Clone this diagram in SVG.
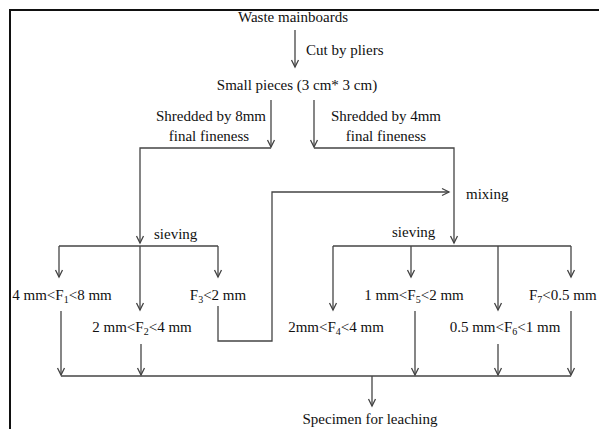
<svg xmlns="http://www.w3.org/2000/svg" width="599" height="429" viewBox="0 0 599 429">
<style>
text{font-family:"Liberation Serif","Times New Roman",serif;font-size:15px;fill:#111}
.sub{font-size:10px}
.c{fill:none;stroke:#444;stroke-width:1.3}
.a{marker-end:url(#arr)}
</style>
<defs>
<marker id="arr" markerUnits="userSpaceOnUse" viewBox="-10 -6 12 12" markerWidth="12" markerHeight="12" refX="0" refY="0" orient="auto">
<path d="M-7,-3.5 L0,0 L-7,3.5" fill="none" stroke="#444" stroke-width="1.3"/>
</marker>
</defs>
<rect width="599" height="429" fill="#fff"/>
<path d="M10,429 V10 H599" fill="none" stroke="#111" stroke-width="2"/>
<g id="connectors">
<path class="c a" d="M295,30 V67"/>
<path class="c a" d="M271,100 V147"/>
<path class="c a" d="M271,148 H140 V243"/>
<path class="c a" d="M314,100 V147"/>
<path class="c a" d="M314,148 H454 V243"/>
<path class="c" d="M59,246 H218"/>
<path class="c a" d="M59,246 V277"/>
<path class="c a" d="M218,246 V277"/>
<path class="c a" d="M140,246 V310"/>
<path class="c" d="M333,246 H571"/>
<path class="c a" d="M333,246 V310"/>
<path class="c a" d="M411,246 V277"/>
<path class="c a" d="M498,246 V310"/>
<path class="c a" d="M571,246 V277"/>
<path class="c a" d="M218,306 V341 H272 V192 H449"/>
<path class="c a" d="M61,311 V375"/>
<path class="c a" d="M141,344 V375"/>
<path class="c a" d="M415,311 V375"/>
<path class="c a" d="M498,344 V375"/>
<path class="c a" d="M571,311 V375"/>
<path class="c" d="M61,376 H571"/>
<path class="c a" d="M372,376 V406"/>
</g>
<g id="waste"><text x="293" y="22" text-anchor="middle">Waste mainboards</text></g>
<g id="cut"><text x="306" y="55">Cut by pliers</text></g>
<g id="small"><text x="297" y="90" text-anchor="middle">Small pieces (3 cm* 3 cm)</text></g>
<g id="shred8"><text x="266" y="121" text-anchor="end">Shredded by 8mm</text><text x="209" y="141" text-anchor="middle">final fineness</text></g>
<g id="shred4"><text x="331" y="121">Shredded by 4mm</text><text x="386" y="141" text-anchor="middle">final fineness</text></g>
<g id="mixing"><text x="466" y="199">mixing</text></g>
<g id="sieve1"><text x="154" y="239">sieving</text></g>
<g id="sieve2"><text x="392" y="237">sieving</text></g>
<g id="f1"><text x="62" y="300" text-anchor="middle">4 mm&lt;F<tspan class="sub" dy="3">1</tspan><tspan dy="-3">&lt;8 mm</tspan></text></g>
<g id="f2"><text x="142" y="332" text-anchor="middle">2 mm&lt;F<tspan class="sub" dy="3">2</tspan><tspan dy="-3">&lt;4 mm</tspan></text></g>
<g id="f3"><text x="218" y="300" text-anchor="middle">F<tspan class="sub" dy="3">3</tspan><tspan dy="-3">&lt;2 mm</tspan></text></g>
<g id="f4"><text x="336" y="332" text-anchor="middle">2mm&lt;F<tspan class="sub" dy="3">4</tspan><tspan dy="-3">&lt;4 mm</tspan></text></g>
<g id="f5"><text x="414" y="300" text-anchor="middle">1 mm&lt;F<tspan class="sub" dy="3">5</tspan><tspan dy="-3">&lt;2 mm</tspan></text></g>
<g id="f6"><text x="505" y="332" text-anchor="middle">0.5 mm&lt;F<tspan class="sub" dy="3">6</tspan><tspan dy="-3">&lt;1 mm</tspan></text></g>
<g id="f7"><text x="529" y="300">F<tspan class="sub" dy="3">7</tspan><tspan dy="-3">&lt;0.5 mm</tspan></text></g>
<g id="specimen"><text x="370" y="424" text-anchor="middle">Specimen for leaching</text></g>
</svg>
